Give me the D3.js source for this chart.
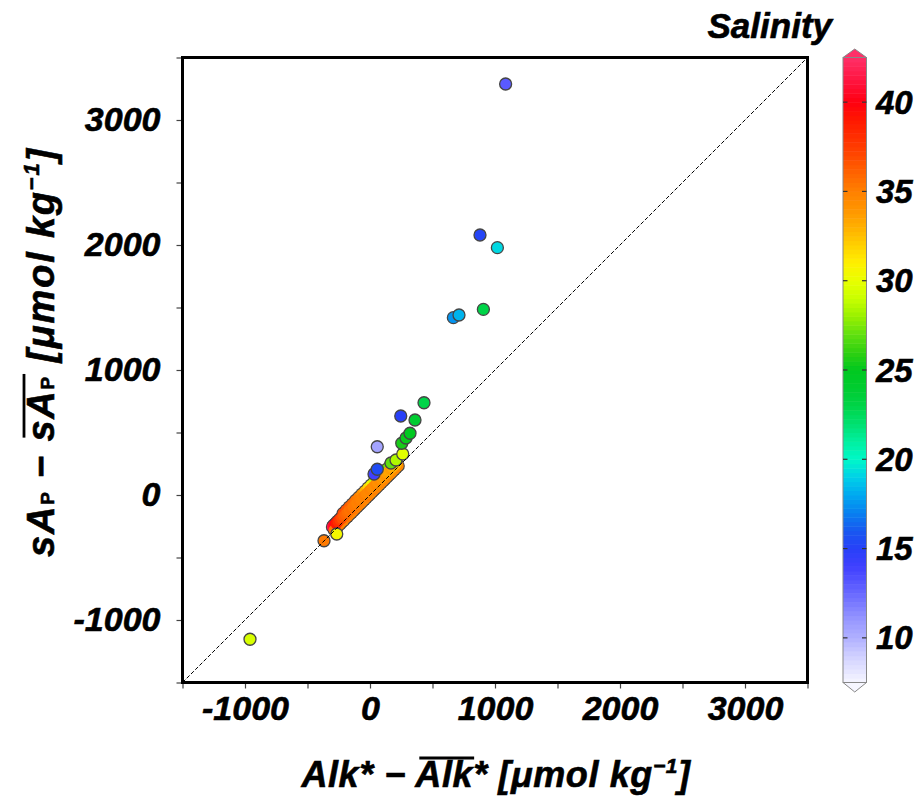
<!DOCTYPE html>
<html>
<head>
<meta charset="utf-8">
<script src="https://cdn.jsdelivr.net/npm/d3@7"></script>
<style>
  body { margin: 0; background: #fff; }
  text { font-family: "Liberation Sans", Arial, sans-serif; font-weight: bold; font-style: italic;
         fill: #000; stroke: #000; stroke-width: 0.6px; }
</style>
</head>
<body>
<script>
// dense near-1:1 band of samples: Alk* anomaly (x), sA_P anomaly (y), salinity (colour)
var bandAlk = [
  -215,-190,-165,-140,-115,-90,-65,-40,-15,10,35,60,85,110,135,160,185,
  -300,-292,-282,-270,-258,-244,-230,
  -285,-270,-255,-240,-225,-210,-195,-180,-165,-150,-135,-120,-105,-90,-75,-60,-45,-30,-15,0,
  15,30,45,60,75,90,105,120,135,150,165,180,195,210,225,
  -270,-255,-240,-225,-210,-195,-180,-165,-150,-135,-120,-105,-90,-75,-60,-45,-30,-15,0,
  15,30,45,60,75,90,105,120,135,150,165,180,195,210
];
var bandSAp = [
  -148,-121,-95,-71,-44,-20,6,30,56,80,106,131,156,182,206,232,256,
  -255,-244,-236,-222,-210,-196,-184,
  -279,-263,-245,-232,-215,-202,-185,-172,-155,-142,-127,-110,-97,-80,-67,-50,-37,-20,-7,10,
  23,40,53,70,83,100,113,130,143,160,173,190,203,220,233,
  -232,-214,-198,-186,-168,-155,-139,-124,-109,-96,-79,-66,-48,-35,-20,-4,11,24,41,
  55,70,86,99,116,130,146,160,175,189,205,219,236,250
];
var bandSal = [
  37.0,36.6,36.2,35.8,35.4,35.0,34.2,33.0,31.8,30.5,29.0,27.5,26.5,25.8,27.0,28.0,28.8,
  41.5,40.8,40.2,39.6,38.8,38.0,37.4,
  35.3,35.1,34.9,35.2,35.0,34.8,35.1,35.3,34.9,35.0,34.7,35.2,34.9,35.1,34.8,35.0,34.6,34.9,35.2,34.8,
  34.5,34.9,35.0,34.7,34.4,34.8,34.6,34.9,34.5,34.7,34.3,34.6,34.4,34.8,34.5,
  39.0,38.2,37.5,36.8,36.3,36.0,35.7,35.5,35.6,35.3,35.2,35.0,35.1,34.9,34.8,35.0,34.7,34.6,34.8,
  34.5,34.3,34.6,34.2,34.4,34.0,33.8,34.1,33.6,33.4,33.7,33.2,33.0,32.6
];

// isolated samples
var sampleAlk = [-368,-266,-960,32,58,58,168,208,262,254,288,320,360,246,432,667,712,907,1019,880,1085];
var sampleSAp = [-366,-312,-1154,168,206,386,256,280,328,414,456,494,600,632,738,1419,1440,1485,1979,2080,3288];
var sampleSal = [35.2,30.5,29.5,14,15.5,10.5,27,28.5,29.8,25.5,25.2,25,24,15,23,17.5,18.3,23,19.2,15.2,13];

var axisTicks = [-1500,-1000,-500,0,500,1000,1500,2000,2500,3000,3500];
var colorTicks = [10,15,20,25,30,35,40];

// colour map stops (salinity -> colour)
var cmapStops  = [7.5,9,10,11,12,13,14,15,16,17,18,19,20,21,22,23,24,25,26,27,28,29,30,31,32,33,34,35,36,37,38,39,40,41,42.5];
var cmapColors = ["#f6f6ff","#d0d0ff","#b0b0ff","#9898ff","#7878ff","#5a5aff","#4040ff","#2840f8","#1858f0","#0880f0",
                  "#00a8f0","#00d0e8","#00f8c8","#00f0a0","#00e070","#00d448","#00cc30","#00c820","#30d010","#60e010",
                  "#98f000","#c8ff00","#e8ff00","#fff000","#ffd000","#ffb000","#ff9400","#ff8000","#ff6400","#ff4800",
                  "#ff3000","#ff1800","#ff0010","#ff1038","#ff3068"];

var W = 917, H = 797;
var svg = d3.select("body").append("svg").attr("width", W).attr("height", H);

var x = d3.scaleLinear().domain([-1500, 3500]).range([182.5, 807.5]);
var y = d3.scaleLinear().domain([-1500, 3500]).range([682.5, 57.5]);
var color = d3.scaleLinear().domain(cmapStops).range(cmapColors).clamp(true);

var fmt = function(d){ return d % 1000 === 0 ? d : ""; };

// axes
var gx = svg.append("g").attr("transform", "translate(0,682.5)")
   .call(d3.axisBottom(x).tickValues(axisTicks).tickSize(6).tickPadding(7).tickFormat(fmt));
var gy = svg.append("g").attr("transform", "translate(182.5,0)")
   .call(d3.axisLeft(y).tickValues(axisTicks).tickSize(6).tickPadding(16).tickFormat(fmt));
[gx, gy].forEach(function(g){
  g.select(".domain").remove();
  g.selectAll(".tick line").attr("stroke", "#444").attr("stroke-width", 1.2);
  g.selectAll(".tick text").attr("fill", "#000").style("font-size", "34px")
    .style("font-family", '"Liberation Sans", Arial, sans-serif');
});

// band: dark outline layer first, then the fills, so the crowded markers merge into one body
var band = d3.range(bandAlk.length);
var gb = svg.append("g");
gb.selectAll("circle.edge")
   .data(band)
 .enter().append("circle")
   .attr("class", "edge")
   .attr("cx", function(i){ return x(bandAlk[i]); })
   .attr("cy", function(i){ return y(bandSAp[i]); })
   .attr("r", 6.7)
   .attr("fill", "#444");
gb.selectAll("circle.dot")
   .data(band)
 .enter().append("circle")
   .attr("class", "dot")
   .attr("cx", function(i){ return x(bandAlk[i]); })
   .attr("cy", function(i){ return y(bandSAp[i]); })
   .attr("r", 5.6)
   .attr("fill", function(i){ return color(bandSal[i]); });

// the other samples, each with its own outline
var single = d3.range(sampleAlk.length);
svg.append("g").selectAll("circle")
   .data(single)
 .enter().append("circle")
   .attr("cx", function(i){ return x(sampleAlk[i]); })
   .attr("cy", function(i){ return y(sampleSAp[i]); })
   .attr("r", 6)
   .attr("fill", function(i){ return color(sampleSal[i]); })
   .attr("stroke", "#454545")
   .attr("stroke-width", 1.3);

// 1:1 line, drawn over the points
svg.append("line")
   .attr("x1", x(-1500)).attr("y1", y(-1500))
   .attr("x2", x(3500)).attr("y2", y(3500))
   .attr("stroke", "#000").attr("stroke-width", 1).attr("stroke-dasharray", "4,2");

// frame
svg.append("rect")
   .attr("x", 182.5).attr("y", 57.5).attr("width", 625).attr("height", 625)
   .attr("fill", "none").attr("stroke", "#000").attr("stroke-width", 3);

// colour bar
var cb = d3.scaleLinear().domain([7.5, 42.5]).range([682.5, 57.5]);
var cbX = 843, cbW = 23.5;
var steps = d3.range(7.5, 42.5, 0.25);
svg.append("g").selectAll("rect")
   .data(steps)
 .enter().append("rect")
   .attr("x", cbX).attr("width", cbW)
   .attr("y", function(d){ return cb(d + 0.25); })
   .attr("height", function(d){ return cb(d) - cb(d + 0.25) + 0.5; })
   .attr("fill", function(d){ return color(d + 0.125); });
svg.append("path")
   .attr("d", "M" + cbX + "," + cb(42.5) + "L" + (cbX + cbW/2) + "," + (cb(42.5) - 8.5) + "L" + (cbX + cbW) + "," + cb(42.5) + "Z")
   .attr("fill", color(42.5)).attr("stroke", "#888").attr("stroke-width", 1);
svg.append("path")
   .attr("d", "M" + cbX + "," + cb(7.5) + "L" + (cbX + cbW/2) + "," + (cb(7.5) + 9.5) + "L" + (cbX + cbW) + "," + cb(7.5) + "Z")
   .attr("fill", color(7.5)).attr("stroke", "#888").attr("stroke-width", 1);
svg.append("rect")
   .attr("x", cbX).attr("y", cb(42.5)).attr("width", cbW).attr("height", cb(7.5) - cb(42.5))
   .attr("fill", "none").attr("stroke", "#888").attr("stroke-width", 1);
var cbt = svg.append("g").selectAll("g").data(colorTicks).enter().append("g");
cbt.append("line").attr("x1", cbX).attr("x2", cbX + 4.5)
   .attr("y1", function(d){ return cb(d); }).attr("y2", function(d){ return cb(d); })
   .attr("stroke", "#333").attr("stroke-width", 1.2);
cbt.append("line").attr("x1", cbX + cbW - 4.5).attr("x2", cbX + cbW)
   .attr("y1", function(d){ return cb(d); }).attr("y2", function(d){ return cb(d); })
   .attr("stroke", "#333").attr("stroke-width", 1.2);
cbt.append("text").attr("x", 876).attr("y", function(d){ return cb(d); }).attr("dy", "0.35em")
   .style("font-size", "33px").text(function(d){ return d; });

svg.append("text").attr("x", 832).attr("y", 38).attr("text-anchor", "end")
   .style("font-size", "35px").text("Salinity");

// draws a bar over characters [a, b] of a text element (in its own coordinates)
function overline(parent, textNode, a, b, gap) {
  var e1 = textNode.getExtentOfChar(a), e2 = textNode.getExtentOfChar(b);
  parent.append("line")
    .attr("x1", e1.x + 4).attr("x2", e2.x + e2.width + 1)
    .attr("y1", e1.y + gap).attr("y2", e1.y + gap)
    .attr("stroke", "#000").attr("stroke-width", 2.8);
}

// x title
var xt = svg.append("g").attr("transform", "translate(496,787)");
var xtt = xt.append("text").attr("text-anchor", "middle").style("font-size", "36px").style("letter-spacing", "0.6px");
xtt.append("tspan").text("Alk* \u2212 ");
xtt.append("tspan").text("Alk");
xtt.append("tspan").text("* [\u03bcmol kg");
xtt.append("tspan").attr("dy", -14).style("font-size", "21px").text("\u22121");
xtt.append("tspan").attr("dy", 14).text("]");
overline(xt, xtt.node(), 7, 9, 4);

// y title
var yt = svg.append("g").attr("transform", "translate(54,352) rotate(-90)");
var ytt = yt.append("text").attr("text-anchor", "middle").style("font-size", "38px").style("letter-spacing", "1.8px");
ytt.append("tspan").text("sA");
ytt.append("tspan").style("font-size", "19px").style("font-style", "normal").text("P");
ytt.append("tspan").text(" \u2212 sA");
ytt.append("tspan").style("font-size", "19px").style("font-style", "normal").text("P");
ytt.append("tspan").text(" [\u03bcmol kg");
ytt.append("tspan").attr("dy", -15).style("font-size", "22px").text("\u22121");
ytt.append("tspan").attr("dy", 15).text("]");
overline(yt, ytt.node(), 6, 8, 4);
</script>
</body>
</html>
